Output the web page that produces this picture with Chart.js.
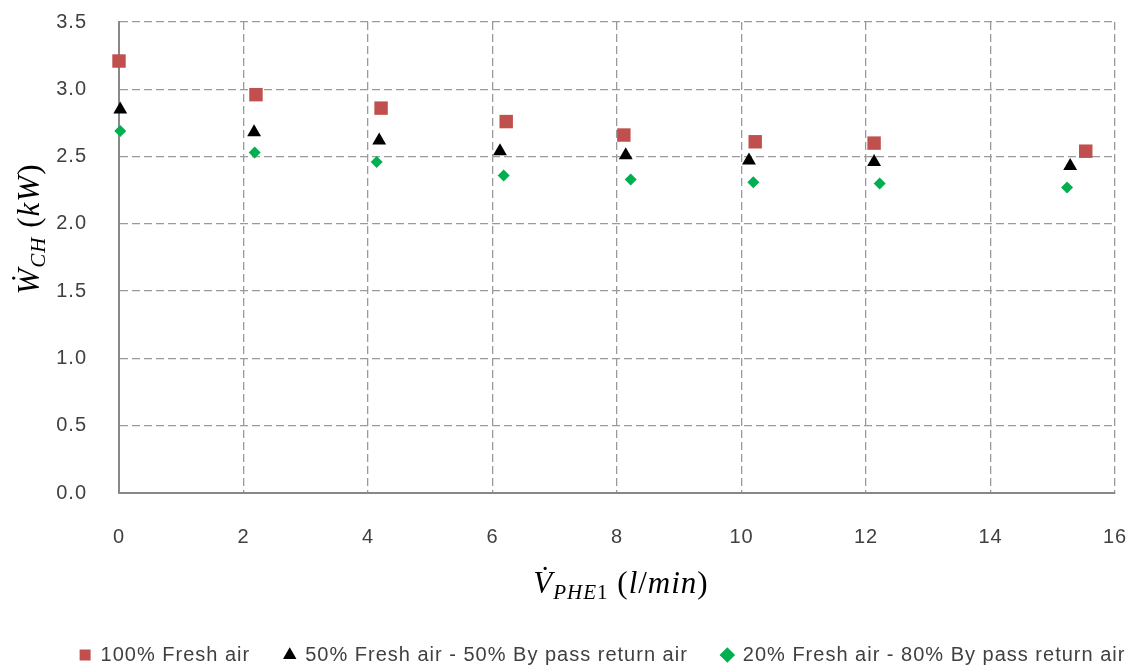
<!DOCTYPE html>
<html>
<head>
<meta charset="utf-8">
<script src="https://cdn.jsdelivr.net/npm/chart.js@4"></script>
<style>
  html, body { margin: 0; padding: 0; background: #fff; }
  #wrap { width: 1141px; height: 671px; }
</style>
</head>
<body>
<div id="wrap"><canvas id="chart-area" width="1141" height="671"></canvas></div>
<script>
// data
var seriesNames = ['100% Fresh air', '50% Fresh air - 50% By pass return air', '20% Fresh air - 80% By pass return air'];

var freshX = [0, 2.2, 4.21, 6.22, 8.11, 10.22, 12.13, 15.53];
var freshY = [3.21, 2.96, 2.86, 2.76, 2.66, 2.61, 2.60, 2.54];

var mix50X = [0.02, 2.17, 4.18, 6.12, 8.14, 10.12, 12.13, 15.28];
var mix50Y = [2.85, 2.68, 2.62, 2.54, 2.51, 2.47, 2.46, 2.43];

var mix20X = [0.02, 2.18, 4.14, 6.18, 8.22, 10.19, 12.22, 15.23];
var mix20Y = [2.69, 2.53, 2.46, 2.36, 2.33, 2.31, 2.30, 2.27];

var xTicks = [0, 2, 4, 6, 8, 10, 12, 14, 16];
var yTicks = [0, 0.5, 1, 1.5, 2, 2.5, 3, 3.5];

var sansFont = "'Liberation Sans', Arial, sans-serif";

function toPoints(xs, ys) {
    var pts = [];
    for (var i = 0; i < xs.length; i++) {
        pts.push({x: xs[i], y: ys[i]});
    }
    return pts;
}

// draws math style axis titles with subscripts
function drawMath(ctx, parts, x, y) {
    var w = 0;
    parts.forEach(function(p) {
        ctx.font = p.font;
        w += ctx.measureText(p.t).width;
    });
    var cx = x - w / 2;
    parts.forEach(function(p) {
        ctx.font = p.font;
        ctx.fillText(p.t, cx, y + (p.dy || 0));
        cx += ctx.measureText(p.t).width;
    });
}

// the reference text is set rather loosely
var spacing = {
    id: 'spacing',
    beforeUpdate: function(chart) { chart.ctx.letterSpacing = '1px'; },
    beforeRender: function(chart) { chart.ctx.letterSpacing = '1px'; }
};

// legend in the picture sits a bit right of centre
var legendShift = {
    id: 'legendShift',
    afterLayout: function(chart) {
        chart.legend.left += 45;
        chart.legend.right += 45;
    }
};

var mathTitles = {
    id: 'mathTitles',
    afterDraw: function(chart) {
        var ctx = chart.ctx;
        var big = 'italic 31px "Liberation Serif"';
        var up = '31px "Liberation Serif"';
        var sub = 'italic 21px "Liberation Serif"';
        var subUp = '21px "Liberation Serif"';
        ctx.save();
        ctx.letterSpacing = '1px';
        ctx.fillStyle = '#000';
        ctx.textBaseline = 'alphabetic';
        drawMath(ctx, [
            {t: 'V\u0307', font: big},
            {t: 'PHE', font: sub, dy: 6},
            {t: '1', font: subUp, dy: 6},
            {t: ' (', font: up},
            {t: 'l', font: big},
            {t: '/', font: up},
            {t: 'min', font: big},
            {t: ')', font: up}
        ], 621, 593);

        ctx.translate(39, 229);
        ctx.rotate(-Math.PI / 2);
        drawMath(ctx, [
            {t: '\u1E86', font: big},
            {t: 'CH', font: sub, dy: 6},
            {t: ' (', font: up},
            {t: 'kW', font: big},
            {t: ')', font: up}
        ], 0, 0);
        ctx.restore();
    }
};

var config = {
    type: 'scatter',
    data: {
        datasets: [{
            label: seriesNames[0],
            data: toPoints(freshX, freshY),
            pointStyle: 'rect',
            pointRadius: 9.5,
            pointHoverRadius: 9.5,
            backgroundColor: '#C0504D',
            borderColor: '#C0504D',
            borderWidth: 0,
            clip: false
        }, {
            label: seriesNames[1],
            data: toPoints(mix50X, mix50Y),
            pointStyle: 'triangle',
            pointRadius: 8,
            pointHoverRadius: 8,
            backgroundColor: '#000000',
            borderColor: '#000000',
            borderWidth: 0,
            clip: false
        }, {
            label: seriesNames[2],
            data: toPoints(mix20X, mix20Y),
            pointStyle: 'rectRot',
            pointRadius: 6,
            pointHoverRadius: 6,
            backgroundColor: '#00B050',
            borderColor: '#00B050',
            borderWidth: 0,
            clip: false
        }]
    },
    options: {
        responsive: false,
        animation: false,
        layout: {
            autoPadding: false,
            padding: {left: 0, right: 26, top: 22, bottom: -4}
        },
        plugins: {
            tooltip: {enabled: false},
            legend: {
                position: 'bottom',
                labels: {
                    usePointStyle: true,
                    boxWidth: 11,
                    boxHeight: 11,
                    padding: 34,
                    color: '#404040',
                    font: {family: sansFont, size: 20}
                }
            }
        },
        scales: {
            x: {
                type: 'linear',
                min: 0,
                max: 16,
                afterBuildTicks: function(scale) {
                    scale.ticks = xTicks.map(function(v) { return {value: v}; });
                },
                afterFit: function(scale) {
                    scale.height = 118;
                    scale.paddingLeft = 0;
                    scale.paddingRight = 0;
                },
                ticks: {
                    padding: 32,
                    color: '#404040',
                    font: {family: sansFont, size: 20}
                },
                grid: {
                    color: '#9A9A9A',
                    lineWidth: 1.3,
                    drawTicks: false
                },
                border: {color: '#888888', width: 2, dash: [8, 4]}
            },
            y: {
                min: 0,
                max: 3.5,
                afterBuildTicks: function(scale) {
                    scale.ticks = yTicks.map(function(v) { return {value: v}; });
                },
                afterFit: function(scale) {
                    scale.width = 119;
                    scale.paddingTop = 0;
                    scale.paddingBottom = 0;
                },
                ticks: {
                    padding: 32,
                    color: '#404040',
                    font: {family: sansFont, size: 20},
                    callback: function(v) { return Number(v).toFixed(1); }
                },
                grid: {
                    color: '#9A9A9A',
                    lineWidth: 1.3,
                    drawTicks: false
                },
                border: {color: '#888888', width: 2, dash: [8, 4]}
            }
        }
    },
    plugins: [spacing, legendShift, mathTitles]
};

var ctx = document.getElementById('chart-area').getContext('2d');
window.myChart = new Chart(ctx, config);
</script>
</body>
</html>
